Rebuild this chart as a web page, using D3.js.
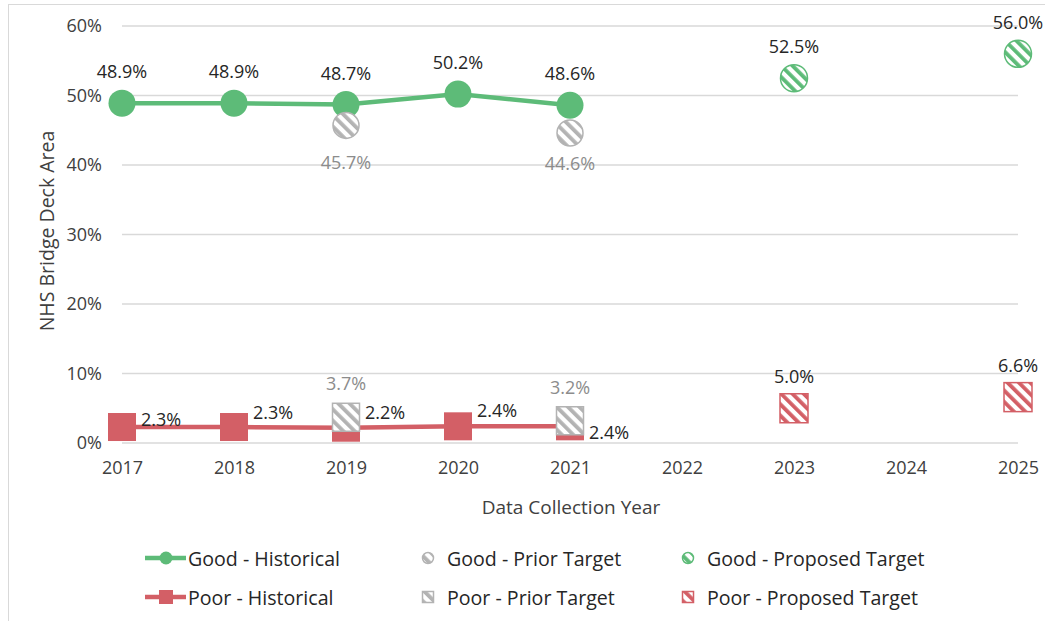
<!DOCTYPE html>
<html><head><meta charset="utf-8">
<script src="https://cdn.jsdelivr.net/npm/d3@7"></script>
<style>body{margin:0;background:#fff}svg{display:block}</style>
</head><body>
<svg id="c" width="1045" height="621"></svg>
<script>
// ---- data ----
const years = [2017, 2018, 2019, 2020, 2021, 2022, 2023, 2024, 2025];
const yTicks = [0, 0.1, 0.2, 0.3, 0.4, 0.5, 0.6];
const histYears = [2017, 2018, 2019, 2020, 2021];
const goodHistorical = [0.489, 0.489, 0.487, 0.502, 0.486];
const poorHistorical = [0.023, 0.023, 0.022, 0.024, 0.024];
const priorYears = [2019, 2021];
const goodPrior = [0.457, 0.446];
const poorPrior = [0.037, 0.032];
const proposedYears = [2023, 2025];
const goodProposed = [0.525, 0.560];
const poorProposed = [0.050, 0.066];
const legendLabels = ["Good - Historical", "Good - Prior Target", "Good - Proposed Target",
                      "Poor - Historical", "Poor - Prior Target", "Poor - Proposed Target"];
// label nudges (layout only)
const poorHistLabelDy = [-8, -15, -16, -16, 6];
const goodPriorLabelDy = [37, 30];

const GREEN = "#5dbb78", RED = "#d35f66", GRAY = "#b3b3b3";
const FONT = "'Open Sans', 'Noto Sans', sans-serif";
const TXT = "#262626", AX = "#404040";
const svg = d3.select("#c").style("font-family", FONT);
const pct = d3.format(".1%");

// border
svg.append("rect").attr("x", 8.5).attr("y", 4.5).attr("width", 1100).attr("height", 700)
  .attr("fill", "none").attr("stroke", "#d9d9d9");

const x = d3.scaleLinear().domain([2017, 2025]).range([122, 1018]);
const y = d3.scaleLinear().domain([0, 0.6]).range([443, 26]);

// patterns
const defs = svg.append("defs");
function hatch(id, color) {
  const p = defs.append("pattern").attr("id", id).attr("patternUnits", "userSpaceOnUse")
    .attr("width", 8).attr("height", 8).attr("patternTransform", "rotate(-45)");
  p.append("rect").attr("width", 8).attr("height", 8).attr("fill", "#fff");
  p.append("rect").attr("x", 0).attr("width", 3.8).attr("height", 8).attr("fill", color);
}
hatch("hG", GREEN); hatch("hR", RED); hatch("hK", GRAY);

// gridlines
svg.append("g").selectAll("line").data(yTicks).join("line")
  .attr("x1", x(2017)).attr("x2", x(2025)).attr("y1", d => y(d)).attr("y2", d => y(d))
  .attr("stroke", "#d9d9d9").attr("stroke-width", 1.5);

// y axis
const yAxis = svg.append("g").attr("transform", "translate(102,0)")
  .call(d3.axisLeft(y).tickValues(yTicks).tickFormat(d3.format(".0%")).tickSize(0).tickPadding(0));
yAxis.select(".domain").remove();
yAxis.selectAll("text").attr("font-size", 18).attr("fill", AX).attr("font-family", FONT);

// x axis
const xAxis = svg.append("g").attr("transform", "translate(0,461)")
  .call(d3.axisBottom(x).tickValues(years).tickFormat(d3.format("d")).tickSize(0).tickPadding(0));
xAxis.select(".domain").remove();
xAxis.selectAll("text").attr("font-size", 18).attr("fill", AX).attr("font-family", FONT);

// axis titles
svg.append("text").attr("x", 571).attr("y", 507).attr("text-anchor", "middle").attr("dominant-baseline", "central")
  .attr("font-size", 19).attr("fill", AX).text("Data Collection Year");
svg.append("text").attr("transform", "translate(46,231) rotate(-90)").attr("text-anchor", "middle")
  .attr("dominant-baseline", "central")
  .attr("font-size", 19.5).attr("fill", AX).text("NHS Bridge Deck Area");

// lines
const line = d3.line().x(d => x(d[0])).y(d => y(d[1]));
svg.append("path").datum(d3.zip(histYears, goodHistorical)).attr("d", line)
  .attr("fill", "none").attr("stroke", GREEN).attr("stroke-width", 4.5);
svg.append("path").datum(d3.zip(histYears, poorHistorical)).attr("d", line)
  .attr("fill", "none").attr("stroke", RED).attr("stroke-width", 4.5);

// historical markers
svg.append("g").selectAll("circle").data(d3.zip(histYears, goodHistorical)).join("circle")
  .attr("cx", d => x(d[0])).attr("cy", d => y(d[1])).attr("r", 13.5).attr("fill", GREEN);
svg.append("g").selectAll("rect").data(d3.zip(histYears, poorHistorical)).join("rect")
  .attr("x", d => x(d[0]) - 14).attr("y", d => y(d[1]) - 14).attr("width", 28).attr("height", 28)
  .attr("fill", RED);

// prior targets
svg.append("g").selectAll("circle").data(d3.zip(priorYears, goodPrior)).join("circle")
  .attr("cx", d => x(d[0])).attr("cy", d => y(d[1])).attr("r", 13)
  .attr("fill", "url(#hK)").attr("stroke", GRAY).attr("stroke-width", 1.5);
svg.append("g").selectAll("rect").data(d3.zip(priorYears, poorPrior)).join("rect")
  .attr("x", d => x(d[0]) - 13.5).attr("y", d => y(d[1]) - 14).attr("width", 27).attr("height", 28)
  .attr("fill", "url(#hK)").attr("stroke", GRAY).attr("stroke-width", 1.5);

// proposed targets
svg.append("g").selectAll("circle").data(d3.zip(proposedYears, goodProposed)).join("circle")
  .attr("cx", d => x(d[0])).attr("cy", d => y(d[1])).attr("r", 13.5)
  .attr("fill", "url(#hG)").attr("stroke", GREEN).attr("stroke-width", 1.5);
svg.append("g").selectAll("rect").data(d3.zip(proposedYears, poorProposed)).join("rect")
  .attr("x", d => x(d[0]) - 14).attr("y", d => y(d[1]) - 14.5).attr("width", 28).attr("height", 29)
  .attr("fill", "url(#hR)").attr("stroke", RED).attr("stroke-width", 1.5);

// data labels
const lab = svg.append("g").attr("font-size", 18).attr("dominant-baseline", "central");
lab.selectAll(".gh").data(d3.zip(histYears, goodHistorical)).join("text")
  .attr("x", d => x(d[0])).attr("y", d => y(d[1]) - 32).attr("text-anchor", "middle")
  .attr("fill", TXT).text(d => pct(d[1]));
lab.selectAll(".ph").data(d3.zip(histYears, poorHistorical)).join("text")
  .attr("x", d => x(d[0]) + 19).attr("y", (d, i) => y(d[1]) + poorHistLabelDy[i])
  .attr("fill", TXT).text(d => pct(d[1]));
lab.selectAll(".gp").data(d3.zip(priorYears, goodPrior)).join("text")
  .attr("x", d => x(d[0])).attr("y", (d, i) => y(d[1]) + goodPriorLabelDy[i]).attr("text-anchor", "middle")
  .attr("fill", "#8c8c8c").text(d => pct(d[1]));
lab.selectAll(".pp").data(d3.zip(priorYears, poorPrior)).join("text")
  .attr("x", d => x(d[0])).attr("y", d => y(d[1]) - 34).attr("text-anchor", "middle")
  .attr("fill", "#8c8c8c").text(d => pct(d[1]));
lab.selectAll(".gx").data(d3.zip(proposedYears, goodProposed)).join("text")
  .attr("x", d => x(d[0])).attr("y", d => y(d[1]) - 32).attr("text-anchor", "middle")
  .attr("fill", TXT).text(d => pct(d[1]));
lab.selectAll(".px").data(d3.zip(proposedYears, poorProposed)).join("text")
  .attr("x", d => x(d[0])).attr("y", d => y(d[1]) - 32).attr("text-anchor", "middle")
  .attr("fill", TXT).text(d => pct(d[1]));

// legend
const legCols = [188, 447, 707];
const legRows = [558, 597];
const leg = svg.append("g").attr("font-size", 19.6).attr("fill", TXT);
legendLabels.forEach((t, i) => {
  const col = i % 3, row = Math.floor(i / 3);
  const tx = legCols[col], cy = legRows[row];
  const g = leg.append("g");
  const isGood = row === 0;
  if (col === 0) {
    const c = isGood ? GREEN : RED;
    g.append("line").attr("x1", tx - 43).attr("x2", tx - 2).attr("y1", cy).attr("y2", cy)
      .attr("stroke", c).attr("stroke-width", 4.5);
    if (isGood) g.append("circle").attr("cx", tx - 22).attr("cy", cy).attr("r", 6.5).attr("fill", c);
    else g.append("rect").attr("x", tx - 29).attr("y", cy - 7).attr("width", 14).attr("height", 14).attr("fill", c);
  } else {
    const c = col === 1 ? GRAY : (isGood ? GREEN : RED);
    const f = col === 1 ? "url(#hK)" : (isGood ? "url(#hG)" : "url(#hR)");
    const cx = tx - 19;
    if (isGood) g.append("circle").attr("cx", cx).attr("cy", cy).attr("r", 5.5)
      .attr("fill", f).attr("stroke", c).attr("stroke-width", 1.5);
    else g.append("rect").attr("x", cx - 5.5).attr("y", cy - 5.5).attr("width", 11).attr("height", 11)
      .attr("fill", f).attr("stroke", c).attr("stroke-width", 1.5);
  }
  g.append("text").attr("x", tx).attr("y", cy).attr("dominant-baseline", "central").text(t);
});
</script>
</body></html>
